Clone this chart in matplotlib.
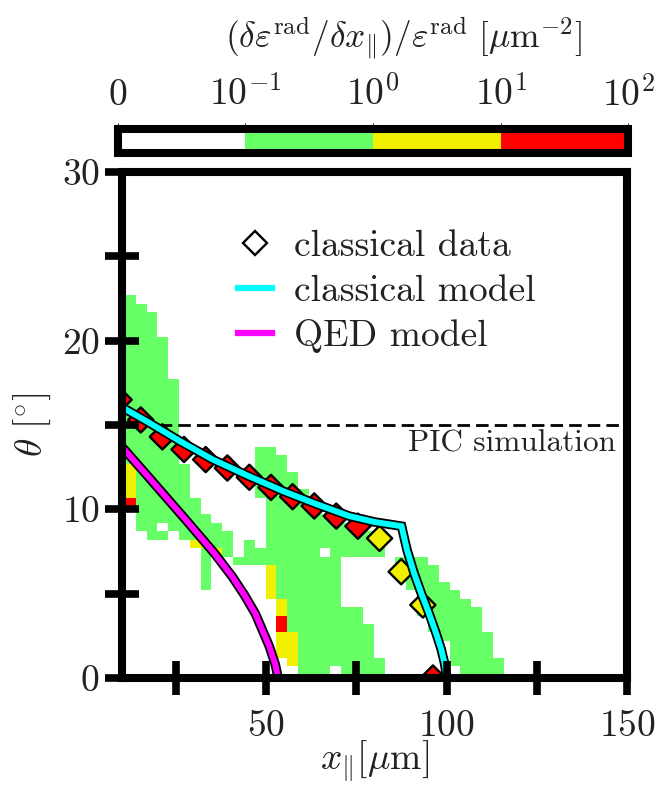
import numpy as np
import matplotlib
matplotlib.use("Agg")
import matplotlib.pyplot as plt
from matplotlib.colors import ListedColormap, BoundaryNorm
from matplotlib.lines import Line2D
import matplotlib.patheffects as pe

plt.rcParams['mathtext.fontset'] = 'cm'
plt.rcParams['font.family'] = 'serif'
plt.rcParams['font.serif'] = ['cmr10']
plt.rcParams['axes.unicode_minus'] = False
plt.rcParams['axes.formatter.use_mathtext'] = True

# ---------------- data ----------------
# heat-map grid (cells of 3 um x 0.5 deg)
x_cell_start = 10.8
x_cell_width = 3.0
theta_cell_start = -0.3
theta_cell_height = 0.5
n_rows = 46

level_values = {'g': 0.3, 'y': 3.0, 'r': 30.0}

# per column: (first row, last row, level)
heat_columns = [
    [(26, 45, 'g'), (22, 25, 'y'), (21, 21, 'r')],
    [(18, 44, 'g')],
    [(17, 43, 'g')],
    [(17, 17, 'g'), (19, 40, 'g')],
    [(18, 35, 'g')],
    [(17, 25, 'g')],
    [(17, 21, 'g'), (16, 16, 'y')],
    [(17, 19, 'g'), (16, 16, 'y'), (11, 15, 'g')],
    [(16, 18, 'g'), (15, 15, 'y')],
    [(15, 17, 'g')],
    [(14, 14, 'g')],
    [(14, 16, 'g')],
    [(14, 15, 'g'), (22, 27, 'g')],
    [(14, 27, 'g'), (10, 13, 'y')],
    [(10, 26, 'g'), (8, 9, 'y'), (6, 7, 'r'), (3, 5, 'y')],
    [(6, 24, 'g'), (2, 5, 'y')],
    [(0, 22, 'g')],
    [(0, 20, 'g')],
    [(0, 14, 'g'), (16, 19, 'g')],
    [(2, 18, 'g')],
    [(0, 8, 'g'), (15, 18, 'g')],
    [(0, 8, 'g'), (15, 18, 'g')],
    [(0, 6, 'g'), (15, 17, 'g')],
    [(0, 2, 'g'), (15, 16, 'g')],
    [],
    [(13, 14, 'g')],
    [(11, 14, 'g')],
    [(8, 14, 'g')],
    [(6, 13, 'g')],
    [(5, 11, 'g')],
    [(2, 10, 'g')],
    [(0, 9, 'g')],
    [(0, 8, 'g')],
    [(0, 5, 'g')],
    [(0, 2, 'g')],
    [],
]

classical_x = [9.2, 15.2, 21.2, 27.2, 33.2, 39.2, 45.3, 51.3, 57.3, 63.3,
               69.4, 75.4, 81.4, 87.4, 93.4, 96.2]
classical_theta = [16.5, 15.3, 14.3, 13.55, 12.95, 12.45, 11.9, 11.3, 10.75,
                   10.2, 9.6, 9.0, 8.28, 6.3, 4.33, 0.0]
classical_value = [30, 30, 30, 30, 30, 30, 30, 30, 30, 30, 30, 30, 3, 3, 3, 30]

model_x = [10.0, 17.0, 26.0, 35.0, 45.0, 55.0, 64.0, 73.0, 80.0, 87.5,
           89.0, 91.0, 93.0, 95.0, 97.0, 98.5, 99.5, 100.0]
model_theta = [16.05, 15.2, 14.05, 12.97, 11.98, 11.05, 10.3, 9.6, 9.25, 9.0,
               7.6, 6.2, 5.0, 3.9, 2.7, 1.7, 0.8, 0.0]

qed_x = [10.0, 16.6, 22.1, 28.0, 35.6, 40.6, 44.0, 47.0, 50.8, 52.5, 53.3]
qed_theta = [13.7, 12.1, 10.75, 9.3, 7.4, 6.0, 4.9, 3.8, 1.9, 0.8, 0.0]

pic_theta = 15.0

cbar_bounds = [0, 0.1, 1, 10, 100]
cbar_labels = ['$0$', '$10^{-1}$', '$10^{0}$', '$10^{1}$', '$10^{2}$']
cbar_colors = ['#ffffff', '#66ff66', '#f0f000', '#ff0000']

# ---------------- figure ----------------
W, H = 665, 785
fig = plt.figure(figsize=(W / 100, H / 100), dpi=100)

ax = fig.add_axes([122 / W, 107 / H, 505 / W, 506 / H])

cmap = ListedColormap(cbar_colors)
norm = BoundaryNorm(cbar_bounds, cmap.N)

n_cols = len(heat_columns)
Z = np.full((n_rows, n_cols), 0.01)
for c, segs in enumerate(heat_columns):
    for lo, hi, lev in segs:
        Z[lo:hi + 1, c] = level_values[lev]
xe = x_cell_start + x_cell_width * np.arange(n_cols + 1)
ye = theta_cell_start + theta_cell_height * np.arange(n_rows + 1)
ax.pcolormesh(xe, ye, Z, cmap=cmap, norm=norm, zorder=1, edgecolors='none')

ax.axhline(pic_theta, color='k', lw=2.0, ls=(0, (4.5, 2.2)), zorder=2)
ax.text(147, 14.75, 'PIC simulation', ha='right', va='top', fontsize=22.5,
        color='#222222', zorder=3)

lw_in = 4.3
outline = [pe.Stroke(linewidth=lw_in + 2.6, foreground='k'), pe.Normal()]
ax.plot(qed_x, qed_theta, color='#ff00ff', lw=lw_in, zorder=3,
        solid_capstyle='butt', path_effects=outline)
ax.scatter(classical_x, classical_theta, c=classical_value, cmap=cmap,
           norm=norm, marker='D', s=165, edgecolors='k', linewidths=1.7,
           zorder=4)
ax.plot(model_x, model_theta, color='#00ffff', lw=lw_in, zorder=5,
        solid_capstyle='butt', solid_joinstyle='miter', path_effects=outline)

ax.set_xlim(10, 150)
ax.set_ylim(0, 30)
ax.set_xticks([50, 100, 150])
ax.set_xticks([25, 75, 125], minor=True)
ax.set_xticklabels(['$50$', '$100$', '$150$'])
ax.set_yticks([0, 10, 20, 30])
ax.set_yticks([5, 15, 25], minor=True)
ax.set_yticklabels(['$0$', '$10$', '$20$', '$30$'])
for which in ('major', 'minor'):
    ax.tick_params(axis='both', which=which, direction='inout', length=24,
                   width=5.5, labelsize=27, color='k', labelcolor='#222222')
ax.tick_params(axis='x', which='major', pad=11)
ax.tick_params(axis='y', which='major', pad=4)
for sp in ax.spines.values():
    sp.set_linewidth(5.8)
    sp.set_zorder(10)
ax.xaxis.set_zorder(11)
ax.yaxis.set_zorder(11)

ax.set_xlabel(r'$x_{\|}[\mu\mathrm{m}]$', fontsize=27, labelpad=-3,
              color='#222222')
ax.set_ylabel(r'$\theta\ [^{\circ}]$', fontsize=27, labelpad=6,
              color='#222222')

handles = [
    Line2D([], [], ls='none', marker='D', markerfacecolor='white',
           markeredgecolor='k', markersize=12, markeredgewidth=1.7),
    Line2D([], [], color='#00ffff', lw=4.5),
    Line2D([], [], color='#ff00ff', lw=4.5),
]
leg = ax.legend(handles, ['classical data', 'classical model', 'QED model'],
                loc='upper left', bbox_to_anchor=(0.2, 0.915), frameon=False,
                fontsize=27, handlelength=0.9, handletextpad=0.6,
                labelspacing=0.3, borderaxespad=0)
for t in leg.get_texts():
    t.set_color('#222222')

# ---------------- colorbar ----------------
cax = fig.add_axes([117.5 / W, 632 / H, 511 / W, 24 / H])
sm = plt.cm.ScalarMappable(cmap=cmap, norm=norm)
cb = fig.colorbar(sm, cax=cax, orientation='horizontal', ticks=cbar_bounds,
                  spacing='uniform')
cb.outline.set_linewidth(5.8)
cax.xaxis.set_ticks_position('top')
cax.set_xticklabels(cbar_labels)
cax.tick_params(axis='x', length=4, width=0.6, labelsize=27, pad=8,
                colors='k', labelcolor='#222222')
cax.minorticks_off()
fig.text(404 / W, 1 - 38 / H,
         r'$(\delta\varepsilon^{\mathrm{rad}}/\delta x_{\|})/\varepsilon^{\mathrm{rad}}\ [\mu\mathrm{m}^{-2}]$',
         ha='center', va='center', fontsize=25.5, color='#222222')

fig.savefig('out.png', dpi=100)
